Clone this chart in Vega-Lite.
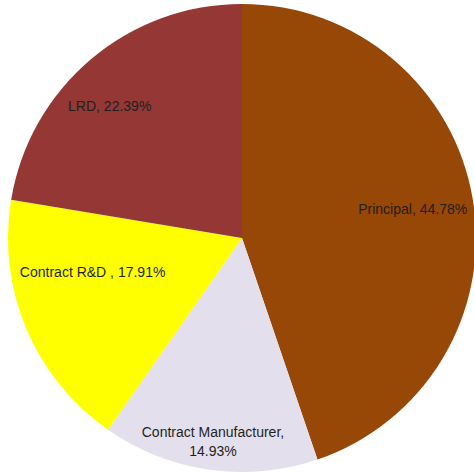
{
  "$schema": "https://vega.github.io/schema/vega-lite/v6.json",
  "width": 464,
  "height": 470,
  "padding": {"left": 10, "top": 3, "right": 0, "bottom": 0},
  "autosize": "none",
  "background": "white",
  "view": {"stroke": null},
  "data": {
    "values": [
      {"cat": "Principal", "value": 44.78, "order": 1, "label": "Principal, 44.78%"},
      {"cat": "Contract Manufacturer", "value": 14.93, "order": 2, "label": "Contract Manufacturer,\n14.93%"},
      {"cat": "Contract R&D", "value": 17.91, "order": 3, "label": "Contract R&D , 17.91%"},
      {"cat": "LRD", "value": 22.39, "order": 4, "label": "LRD, 22.39%"}
    ]
  },
  "encoding": {
    "theta": {"field": "value", "type": "quantitative", "stack": true},
    "order": {"field": "order", "type": "quantitative", "sort": "ascending"}
  },
  "layer": [
    {
      "mark": {"type": "arc", "outerRadius": 234, "strokeWidth": 0},
      "encoding": {
        "color": {
          "field": "cat",
          "type": "nominal",
          "scale": {
            "domain": ["Principal", "Contract Manufacturer", "Contract R&D", "LRD"],
            "range": ["#974706", "#E4DFEC", "#FFFF00", "#953735"]
          },
          "legend": null
        }
      }
    },
    {
      "mark": {"type": "text", "radius": 173, "font": "Liberation Sans", "fontSize": 14, "fill": "#1f1f1f", "align": "center", "baseline": "middle"},
      "encoding": {"text": {"condition": {"test": "datum.cat === 'Principal'", "field": "label"}, "value": ""}}
    },
    {
      "mark": {"type": "text", "radius": 207, "dy": -10, "font": "Liberation Sans", "fontSize": 14, "fill": "#1f1f1f", "align": "center", "baseline": "middle", "lineBreak": "\n", "lineHeight": 19},
      "encoding": {"text": {"condition": {"test": "datum.cat === 'Contract Manufacturer'", "field": "label"}, "value": ""}}
    },
    {
      "mark": {"type": "text", "radius": 161, "dx": -1, "dy": -27, "font": "Liberation Sans", "fontSize": 14, "fill": "#1f1f1f", "align": "center", "baseline": "middle"},
      "encoding": {"text": {"condition": {"test": "datum.cat === 'Contract R&D'", "field": "label"}, "value": ""}}
    },
    {
      "mark": {"type": "text", "radius": 186, "dx": -12, "dy": 11, "font": "Liberation Sans", "fontSize": 14, "fill": "#1f1f1f", "align": "center", "baseline": "middle"},
      "encoding": {"text": {"condition": {"test": "datum.cat === 'LRD'", "field": "label"}, "value": ""}}
    }
  ]
}
